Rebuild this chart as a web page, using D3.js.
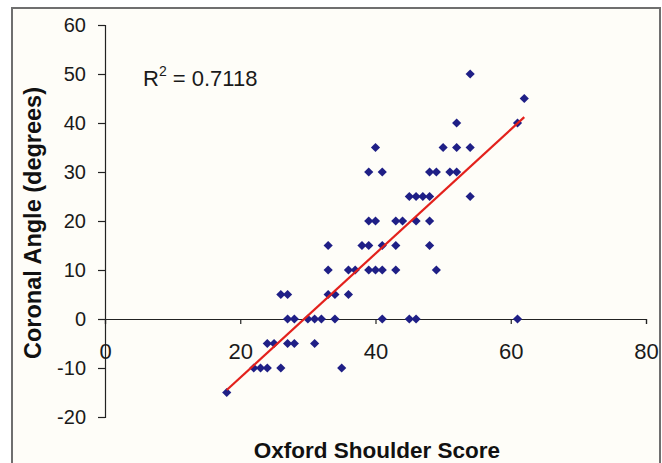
<!DOCTYPE html>
<html>
<head>
<meta charset="utf-8">
<script src="https://cdn.jsdelivr.net/npm/d3@7"></script>
<style>
  html, body { margin: 0; padding: 0; background: #ffffff; }
  svg { display: block; }
</style>
</head>
<body>
<div id="chart-scatter"></div>
<script>
// ── Data ────────────────────────────────────────
const OSS_SCORE = [
  18,
  22, 23, 24, 26, 35,
  24, 25, 27, 28, 31,
  27, 28, 30, 31, 32, 34, 41, 45, 46, 61,
  26, 27, 33, 34, 36,
  33, 36, 37, 39, 40, 41, 43, 49,
  33, 38, 39, 41, 43, 48,
  39, 40, 43, 44, 46, 48,
  45, 46, 47, 48, 54,
  39, 41, 48, 49, 51, 52,
  40, 50, 52, 54,
  52, 61,
  62,
  54
];
const CORONAL_ANGLE = [
  -15,
  -10, -10, -10, -10, -10,
  -5, -5, -5, -5, -5,
  0, 0, 0, 0, 0, 0, 0, 0, 0, 0,
  5, 5, 5, 5, 5,
  10, 10, 10, 10, 10, 10, 10, 10,
  15, 15, 15, 15, 15, 15,
  20, 20, 20, 20, 20, 20,
  25, 25, 25, 25, 25,
  30, 30, 30, 30, 30, 30,
  35, 35, 35, 35,
  40, 40,
  45,
  50
];
// linear trendline end points
const TREND_X = [18, 62];
const TREND_Y = [-14.5, 41.2];

const X_TICKS = [0, 20, 40, 60, 80];
const Y_TICKS = [-20, -10, 0, 10, 20, 30, 40, 50, 60];
const R2_LABEL = "0.7118";

(function () {
  const W = 662, H = 463;
  const FONT = "'Liberation Sans', Arial, sans-serif";
  const points = OSS_SCORE.map((x, i) => ({ x: x, y: CORONAL_ANGLE[i] }));
  const plain = d => String(d);   // hyphen minus, like the original

  const svg = d3.select("#chart-scatter")
    .append("svg").attr("width", W).attr("height", H);

  // outer frame
  svg.append("rect")
    .attr("x", 12).attr("y", 8)
    .attr("width", 648).attr("height", 480)
    .attr("fill", "#fefdf8")
    .attr("stroke", "#6f6f6f").attr("stroke-width", 2);

  // ── Scales ──────────────────────────────────
  const x = d3.scaleLinear().domain([0, 80]).range([105, 646]);
  const y = d3.scaleLinear().domain([-20, 60]).range([417, 25]);

  // ── Y axis ──────────────────────────────────
  const yAxis = svg.append("g")
    .attr("transform", `translate(${x(0)},0)`)
    .call(d3.axisLeft(y).tickValues(Y_TICKS).tickFormat(plain)
      .tickSize(7).tickSizeOuter(7).tickPadding(12));
  yAxis.select(".domain").attr("stroke", "#222").attr("stroke-width", 1.2);
  yAxis.selectAll(".tick line").attr("stroke", "#222").attr("stroke-width", 1.2);
  yAxis.selectAll("text")
    .attr("font-family", FONT).attr("font-size", "20px").attr("fill", "#1a1a1a");

  // ── X axis (crosses at y = 0) ───────────────
  const xAxis = svg.append("g")
    .attr("transform", `translate(0,${y(0)})`)
    .call(d3.axisBottom(x).tickValues(X_TICKS).tickFormat(plain)
      .tickSize(5).tickSizeOuter(5));
  xAxis.select(".domain").attr("stroke", "#222").attr("stroke-width", 1.2);
  xAxis.selectAll(".tick line").attr("stroke", "#222").attr("stroke-width", 1.2);
  xAxis.selectAll("text")
    .attr("y", 40).attr("dy", 0)
    .attr("font-family", FONT).attr("font-size", "22px").attr("fill", "#1a1a1a");

  // ── Points (diamonds) ───────────────────────
  const diamond = d3.symbol(d3.symbolSquare, 42)();
  svg.append("g").selectAll("path")
    .data(points)
    .join("path")
      .attr("d", diamond)
      .attr("transform", d => `translate(${x(d.x)},${y(d.y)}) rotate(45)`)
      .attr("fill", "#1f1f86");

  // ── Trendline ───────────────────────────────
  const trend = TREND_X.map((v, i) => ({ x: v, y: TREND_Y[i] }));
  svg.append("path")
    .datum(trend)
    .attr("fill", "none")
    .attr("stroke", "#e3211c")
    .attr("stroke-width", 2.2)
    .attr("d", d3.line().x(d => x(d.x)).y(d => y(d.y)));

  // ── R² label ────────────────────────────────
  const r2 = svg.append("text")
    .attr("x", 143).attr("y", 86)
    .attr("font-family", FONT).attr("font-size", "22px").attr("fill", "#1a1a1a");
  r2.append("tspan").text("R");
  r2.append("tspan").attr("font-size", "14px").attr("dy", -10).text("2");
  r2.append("tspan").attr("dy", 10).text(" = " + R2_LABEL);

  // ── Axis titles ─────────────────────────────
  svg.append("text")
    .attr("x", 377).attr("y", 458)
    .attr("text-anchor", "middle")
    .attr("font-family", FONT).attr("font-weight", "bold")
    .attr("font-size", "22.5px").attr("fill", "#111")
    .text("Oxford Shoulder Score");

  svg.append("text")
    .attr("transform", "translate(41,223) rotate(-90)")
    .attr("text-anchor", "middle")
    .attr("font-family", FONT).attr("font-weight", "bold")
    .attr("font-size", "23.5px").attr("fill", "#111")
    .text("Coronal Angle (degrees)");
})();
</script>
</body>
</html>
